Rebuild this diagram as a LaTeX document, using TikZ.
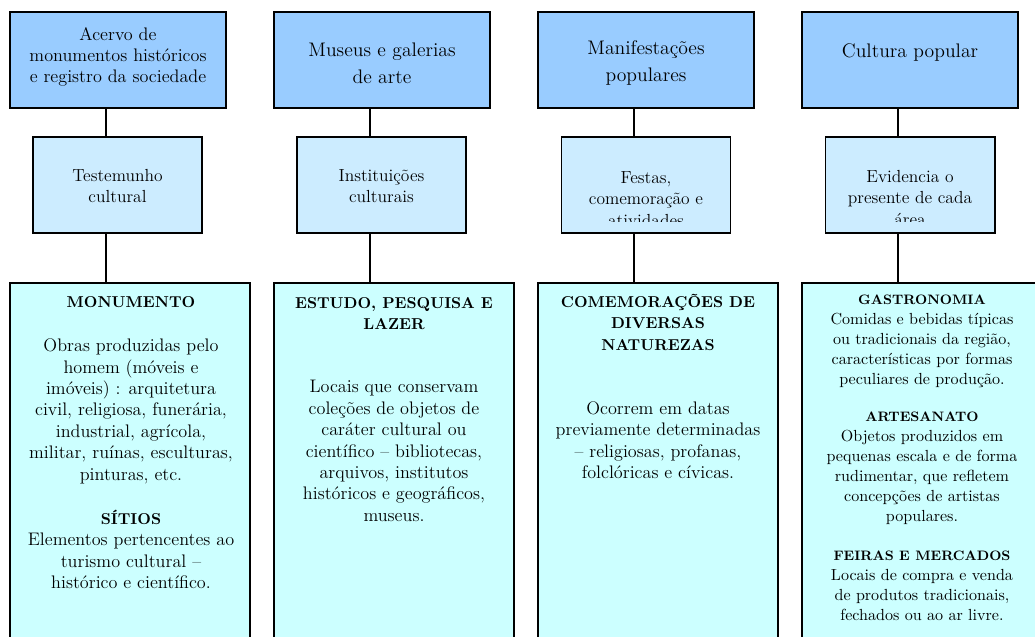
\documentclass[tikz,border=0pt]{standalone}
\usepackage{fontspec}
\usetikzlibrary{positioning}

\definecolor{topblue}{HTML}{99CCFF}
\definecolor{midblue}{HTML}{CCECFF}
\definecolor{lowcyan}{HTML}{CCFFFF}

\tikzset{
  topbox/.style={draw, line width=1.6pt, fill=topblue, minimum width=145.2pt, minimum height=64.5pt, inner sep=0pt},
  midbox/.style={draw, line width=1.3pt, fill=midblue, minimum width=113.6pt, minimum height=64.5pt, inner sep=0pt},
  lowbox/.style={draw, line width=1.3pt, fill=lowcyan, minimum width=161.3pt, minimum height=268.8pt, anchor=north, inner sep=0pt},
  toptext/.style={align=center, inner sep=0pt, font=\fontsize{13.2}{18}\selectfont},
  midtext/.style={align=center, inner sep=0pt, font=\fontsize{11.75}{14.3}\selectfont},
  lowtext/.style={align=center, inner sep=0pt, anchor=north, font=\fontsize{12.2}{14.4}\selectfont},
  link/.style={line width=1.3pt}
}
\newcommand\headA{\fontsize{10.6}{14.4}\selectfont\bfseries}
\newcommand\headB{\fontsize{10.6}{14.8}\selectfont\bfseries}
\newcommand\headC{\fontsize{9.2}{13.4}\selectfont\bfseries}

\begin{document}
\begin{tikzpicture}[x=0.672pt, y=-0.672pt]
\useasboundingbox (0,0) rectangle (1035,637);
\clip (0,0) rectangle (1035,637);

% first row
\node[topbox] (t1) at (118,60) {};
\node[topbox] (t2) at (382,60) {};
\node[topbox] (t3) at (646,60) {};
\node[topbox] (t4) at (910,60) {};
\node[toptext, font=\fontsize{12.2}{14.1}\selectfont] (t1txt) at (118,57) {Acervo de\\monumentos históricos\\e registro da sociedade};
\node[toptext] (t2txt) at (382,63) {Museus e galerias\\de arte};
\node[toptext] (t3txt) at (646,63) {Manifestações\\populares};
\node[toptext] (t4txt) at (910,52) {Cultura popular};

% second row
\node[midbox] (m1) at (117.5,185) {};
\node[midbox] (m2) at (381.5,185) {};
\node[midbox] (m3) at (646,185) {};
\node[midbox] (m4) at (910,185) {};
\node[midtext] (m1txt) at (117.5,186) {Testemunho\\cultural};
\node[midtext] (m2txt) at (381.5,186) {Instituições\\culturais};
\begin{scope}
  \clip (552,140) rectangle (1000,222);
  \node[midtext] (m3txt) at (646,199) {Festas,\\comemoração e\\atividades};
  \node[midtext] (m4txt) at (910,198) {Evidencia o\\presente de cada\\área};
\end{scope}

% third row
\node[lowbox] (b1) at (130,282) {};
\node[lowbox] (b2) at (394,282) {};
\node[lowbox] (b3) at (658,282) {};
\node[lowbox] (b4) at (922,282) {};

\node[lowtext] (b1txt) at (131,296) {{\headA MONUMENTO}\\[15.4pt]
  Obras produzidas pelo\\homem (móveis e\\imóveis) : arquitetura\\civil, religiosa, funerária,\\industrial, agrícola,\\militar, ruínas, esculturas,\\pinturas, etc.\\[15.4pt]
  {\headA SÍTIOS}\\Elementos pertencentes ao\\turismo cultural –\\histórico e científico.};
\node[lowtext] (b2txt) at (394,297) {{\headB ESTUDO, PESQUISA E}\\{\headB LAZER}\\[28pt]
  Locais que conservam\\coleções de objetos de\\caráter cultural ou\\científico – bibliotecas,\\arquivos, institutos\\históricos e geográficos,\\museus.};
\node[lowtext] (b3txt) at (658,294) {{\headB COMEMORAÇÕES DE}\\{\headB DIVERSAS}\\{\headB NATUREZAS}\\[28.5pt]
  Ocorrem em datas\\previamente determinadas\\– religiosas, profanas,\\folclóricas e cívicas.};
\node[lowtext, font=\fontsize{10.8}{13.4}\selectfont] (b4txt) at (922,295) {{\headC GASTRONOMIA}\\
  Comidas e bebidas típicas\\ou tradicionais da região,\\características por formas\\peculiares de produção.\\[11.5pt]
  {\headC ARTESANATO}\\Objetos produzidos em\\pequenas escala e de forma\\rudimentar, que refletem\\concepções de artistas\\populares.\\[12.8pt]
  {\headC FEIRAS E MERCADOS}\\Locais de compra e venda\\de produtos tradicionais,\\fechados ou ao ar livre.};

% connectors
\foreach \i in {1,...,4}{
  \coordinate (k\i) at ([xshift=-8.06pt]t\i.south);
  \draw[link] (k\i) -- (k\i |- m\i.north);
  \draw[link] (k\i |- m\i.south) -- (k\i |- b\i.north);
}

\end{tikzpicture}
\end{document}
